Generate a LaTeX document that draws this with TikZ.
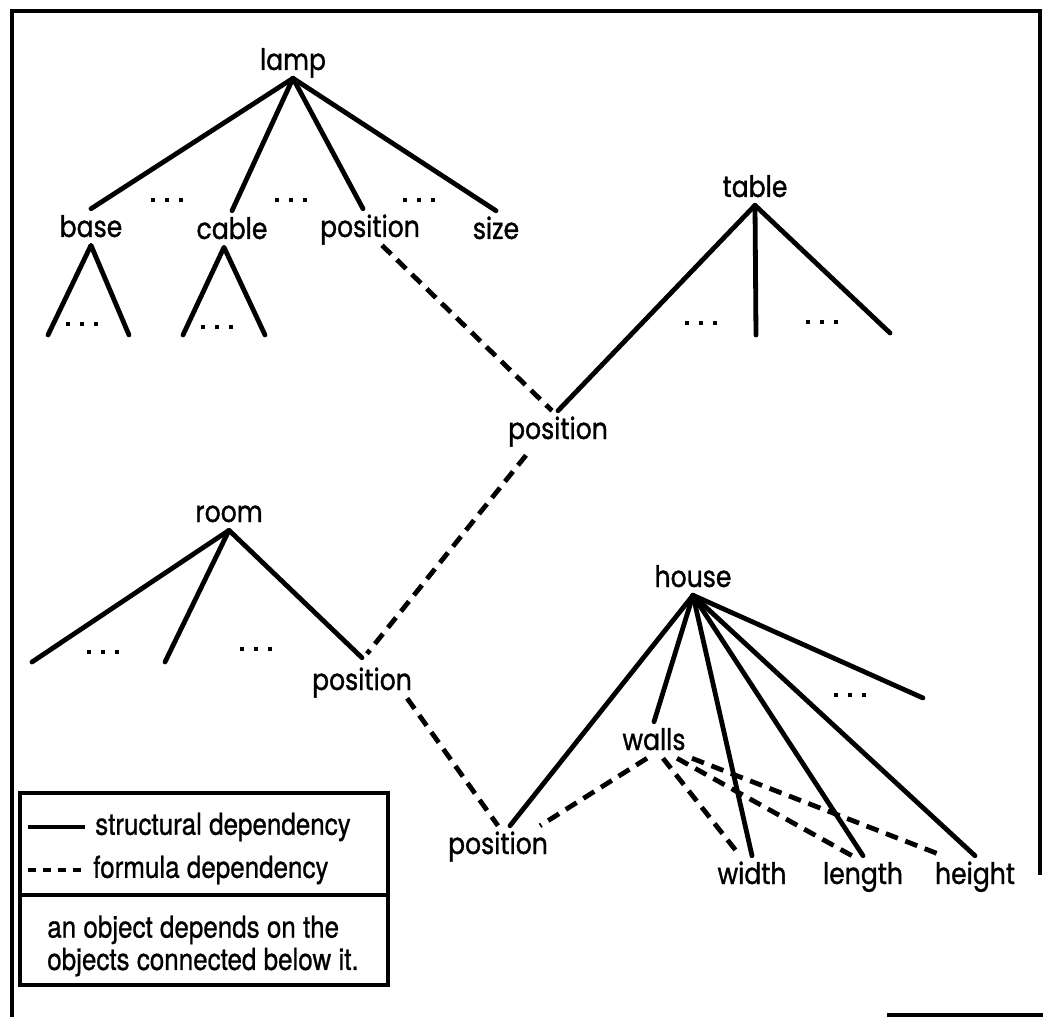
\documentclass[tikz,border=0pt]{standalone}
\usepackage{fontspec}
\setmainfont{Poppins}[FakeStretch=0.85, FakeBold=1.2]
\newfontfamily\legendfont{TeX Gyre Heros}[FakeStretch=0.86, FakeBold=0.8]
\usepackage{tikz}
\usetikzlibrary{arrows.meta, positioning}
\tikzset{
  obj/.style={font=\fontsize{21}{23}\selectfont, inner sep=0pt, anchor=base,
              text height=19.9pt, text depth=5.7pt},
  etc/.style={inner sep=0pt},
  struct/.style={line width=1.2mm, line cap=round, line join=round},
  formula/.style={line width=1.2mm, dash pattern=on 3.2mm off 2mm},
  frame/.style={line width=0.9mm},
  key/.style={font=\legendfont\fontsize{21.5}{23}\selectfont, inner xsep=2.5mm,
              inner ysep=0pt, anchor=west}
}
\newcommand{\pt}{\rule{1.1mm}{1.1mm}}
\newcommand{\moredots}{\pt\kern2.4mm\pt\kern2.4mm\pt}

\begin{document}
\begin{tikzpicture}[x=0.25mm, y=-0.25mm]
  \useasboundingbox (0,0) rectangle (1043,1017);
  \draw[frame] (1040,875) -- (1040,11) -- (12,11) -- (12,1017);
  \draw[frame] (887,1015) -- (1043,1015);

  % objects
  \node[obj] (lamp) at (293,70) {lamp};
  \node[obj] (base) at (91,237) {base};
  \node[obj] (cable) at (232,239) {cable};
  \node[obj] (lamppos) at (370,237) {position};
  \node[obj] (size) at (496,239) {size};
  \node[obj] (table) at (755,197) {table};
  \node[obj] (tablepos) at (558,439) {position};
  \node[obj] (room) at (229,522) {room};
  \node[obj] (roompos) at (362,690) {position};
  \node[obj] (house) at (693,587) {house};
  \node[obj] (housepos) at (498,854) {position};
  \node[obj] (walls) at (654,750) {walls};
  \node[obj] (width) at (752,884) {width};
  \node[obj] (length) at (863,884) {length};
  \node[obj] (height) at (975,884) {height};

  % open ends
  \coordinate (b1) at (48,335);  \coordinate (b2) at (129,335);
  \coordinate (c1) at (183,335); \coordinate (c2) at (265,335);
  \coordinate (t1) at (756,335); \coordinate (t2) at (890,333);
  \coordinate (r1) at (32,662);  \coordinate (r2) at (165,662);
  \coordinate (h1) at (923,698);

  \foreach \p [count=\i] in {(167,200),(291,200),(419,200),(82,324),(217,327),
      (701,323),(822,322),(103,652),(256,649),(850,695)}
    \node[etc] (etc\i) at \p {\moredots};

  % structural dependencies
  \draw[struct] (lamp.south) -- (base.north);
  \draw[struct] (lamp.south) -- (cable.north);
  \draw[struct] (lamp.south) -- ([xshift=-1.75mm]lamppos.north);
  \draw[struct] (lamp.south) -- (size.north);
  \draw[struct] (b1) -- (base.south) -- (b2);
  \draw[struct] (c1) -- ([xshift=-2mm]cable.south) -- (c2);
  \draw[struct] (tablepos.north) -- (table.south) -- (t2);
  \draw[struct] (table.south) -- (t1);
  \draw[struct] (r1) -- (room.south) -- ([yshift=1mm]roompos.north);
  \draw[struct] (room.south) -- (r2);
  \draw[struct] (house.south) -- ([xshift=3mm]housepos.north);
  \foreach \c in {walls, width, length, height}
    \draw[struct] (house.south) -- (\c.north);
  \draw[struct] (house.south) -- (h1);

  % formula dependencies
  \draw[formula] ([xshift=3mm]lamppos.south) -- ([xshift=-1.5mm]tablepos.north);
  \draw[formula] ([xshift=-8mm, yshift=-2mm]tablepos.south) -- ([xshift=1.25mm, yshift=2mm]roompos.north);
  \draw[formula] ([xshift=-1.25mm]roompos.south east) -- (housepos.north);
  \draw[formula] ([xshift=-1.75mm]walls.south) -- ([xshift=10.5mm]housepos.north);
  \draw[formula] ([xshift=2.25mm]walls.south) -- ([xshift=-3mm]width.north);
  \draw[formula] ([xshift=5.75mm]walls.south) -- ([xshift=-2.75mm]length.north);
  \draw[formula] ([xshift=9.5mm]walls.south) -- ([xshift=-8mm]height.north);

  % legend
  \draw[frame] (20,793) rectangle (388,985);
  \draw[frame] (20,895) -- (388,895);
  \node[key] (structkey) at (85,827) {structural dependency};
  \node[key] (formkey) at (83,870) {formula dependency};
  \coordinate (sk) at (28,827);
  \coordinate (fk) at (28,870);
  \draw[struct, line cap=butt] (sk) -- (structkey.west);
  \draw[line width=1.1mm, dash pattern=on 2mm off 1.75mm] (fk) -- (formkey.west);
  \node[key, align=left, inner xsep=0pt] (note) at (47,946)
    {an object depends on the\\objects connected below it.};
\end{tikzpicture}
\end{document}
